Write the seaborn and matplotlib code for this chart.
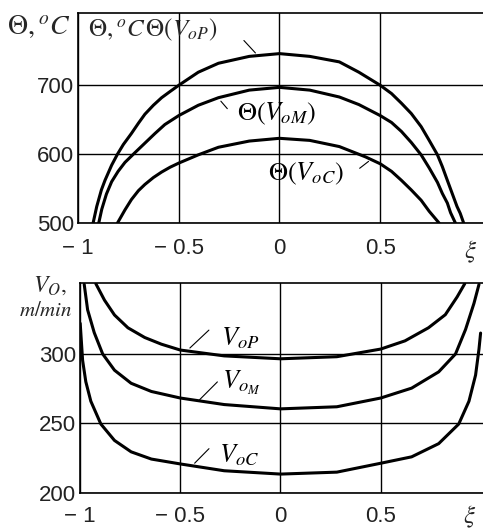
import numpy as np
import pandas as pd
import seaborn as sns
import matplotlib
matplotlib.use('Agg')
import matplotlib.pyplot as plt

# top panel, temperature Theta (deg C) against xi
xi_th_p = [-0.925, -0.907, -0.884, -0.866, -0.851, -0.833, -0.804, -0.775, -0.735, -0.7, -0.668, -0.626,
           -0.585, -0.543, -0.5, -0.403, -0.303, -0.15, 0.0, 0.15, 0.297, 0.394, 0.5, 0.556, 0.605,
           0.654, 0.703, 0.743, 0.784, 0.808, 0.833, 0.857, 0.881, 0.897, 0.914]
th_p = [500, 524, 548, 562, 572, 584, 600, 614, 630, 645, 658, 671,
        682, 691, 700, 719, 732, 742, 746, 742, 734, 719, 700, 688, 674,
        659, 640, 620, 599, 582, 562, 543, 524, 514, 500]

xi_th_m = [-0.897, -0.882, -0.859, -0.833, -0.801, -0.767, -0.718, -0.668, -0.618, -0.569, -0.5,
           -0.403, -0.303, -0.15, 0.0, 0.15, 0.297, 0.394, 0.5, 0.556, 0.605, 0.654, 0.703,
           0.743, 0.784, 0.808, 0.833, 0.849, 0.873]
th_m = [500, 520, 542, 560, 575, 588, 602, 616, 630, 643, 656,
        671, 682, 693, 697, 693, 683, 672, 656, 646, 633, 617, 599,
        580, 559, 543, 529, 515, 500]

xi_th_c = [-0.804, -0.767, -0.735, -0.7, -0.668, -0.626, -0.585, -0.543, -0.5, -0.403, -0.303,
           -0.15, 0.0, 0.15, 0.297, 0.427, 0.5, 0.556, 0.605, 0.654, 0.703, 0.743, 0.792]
th_c = [500, 519, 534, 547, 556, 566, 574, 581, 587, 599, 610,
        619, 623, 620, 611, 596, 586, 575, 562, 548, 533, 517, 500]

# bottom panel, speed V_o (m/min) against xi
xi_v_p = [-0.921, -0.878, -0.828, -0.761, -0.677, -0.594, -0.5, -0.281, 0.0,
          0.281, 0.5, 0.621, 0.738, 0.822, 0.881, 0.919]
v_p = [350.5, 338.7, 328, 318.8, 311.8, 307, 302.8, 298.6, 296.5,
       298, 303.5, 309.4, 318.8, 328.2, 341, 350.5]

xi_v_m = [-0.979, -0.962, -0.929, -0.887, -0.828, -0.745, -0.644, -0.5, -0.281, 0.0,
          0.281, 0.5, 0.654, 0.789, 0.873, 0.923, 0.965, 0.99]
v_m = [350, 331.7, 315.3, 300, 288.3, 278.9, 273, 268.3, 263.6, 260.5,
       262, 268.3, 275.4, 287.1, 300, 317.6, 336.4, 350]

xi_v_c = [-0.999, -0.987, -0.971, -0.946, -0.896, -0.828, -0.745, -0.644, -0.5, -0.281, 0.0,
          0.281, 0.5, 0.654, 0.789, 0.889, 0.94, 0.973, 0.99, 0.998]
v_c = [322, 295.4, 280, 266, 249.6, 237.8, 229.6, 224.4, 220.9, 216, 213.6,
       215, 221.4, 226, 235.5, 249.6, 266, 284.8, 303.5, 315]

x_ticks = [-1, -0.5, 0, 0.5]
x_ticklabels = ['\u2212 1', '\u2212 0.5', '0', '0.5']
th_ticks = [500, 600, 700]
v_ticks = [200, 250, 300]

sns.set_style('white')
plt.rcParams['font.family'] = ['Liberation Sans', 'DejaVu Sans']
plt.rcParams['mathtext.fontset'] = 'stix'

W, H = 483, 532
fig = plt.figure(figsize=(W / 100, H / 100), dpi=100)


def box(l, t, r, b):
    return [l / W, 1 - b / H, (r - l) / W, (b - t) / H]


ax1 = fig.add_axes(box(78, 13, 483, 223))
ax2 = fig.add_axes(box(80, 283, 483, 493))

for xs, ys in [(xi_th_p, th_p), (xi_th_m, th_m), (xi_th_c, th_c)]:
    sns.lineplot(x=xs, y=ys, ax=ax1, color='black', lw=2.2, estimator=None, sort=False)
for xs, ys in [(xi_v_p, v_p), (xi_v_m, v_m), (xi_v_c, v_c)]:
    sns.lineplot(x=xs, y=ys, ax=ax2, color='black', lw=2.2, estimator=None, sort=False)

for ax, lim, yt, pad in [(ax1, (500, 805), th_ticks, 11), (ax2, (200, 351), v_ticks, 9)]:
    ax.set_xlim(-1, 1.01)
    ax.set_ylim(*lim)
    ax.set_xticks(x_ticks)
    ax.set_xticklabels(x_ticklabels)
    ax.set_yticks(yt)
    ax.grid(True, color='black', lw=1.0)
    ax.tick_params(axis='both', length=0, labelsize=16, colors='#222222')
    ax.tick_params(axis='x', pad=pad)
    ax.tick_params(axis='y', pad=3)
    for s in ['left', 'top', 'bottom']:
        ax.spines[s].set_color('black')
        ax.spines[s].set_linewidth(1.2)
    ax.spines['right'].set_visible(False)
    ax.set_xlabel('')
    ax.set_ylabel('')

lbl = dict(fontsize=19, color='black')
leader = dict(arrowstyle='-', color='black', lw=0.8)

# top panel labels
fig.text(39 / W, 1 - 27 / H, r'$\mathit{\Theta},^oC$', ha='center', va='center', fontsize=20)
ax1.text(-0.95, 780, r'$\mathit{\Theta},^oC\,\mathit{\Theta}(V_{oP})$', ha='left', va='center', fontsize=18)
ax1.annotate('', xy=(-0.11, 744), xytext=(-0.186, 768), arrowprops=leader)
ax1.text(-0.21, 659, r'$\mathit{\Theta}(V_{oM})$', ha='left', va='center', **lbl)
ax1.annotate('', xy=(-0.30, 680), xytext=(-0.25, 663), arrowprops=leader)
ax1.text(-0.055, 572, r'$\mathit{\Theta}(V_{oC})$', ha='left', va='center', **lbl)
ax1.annotate('', xy=(0.453, 592), xytext=(0.387, 577), arrowprops=leader)
fig.text(471 / W, 1 - 252 / H, r'$\xi$', ha='center', va='center', fontsize=18)

# bottom panel labels
fig.text(50 / W, 1 - 286 / H, r'$V_O,$', ha='center', va='center', fontsize=17)
fig.text(46 / W, 1 - 310 / H, r'$m/min$', ha='center', va='center', fontsize=15)
ax2.text(-0.296, 311.5, r'$V_{oP}$', ha='left', va='center', **lbl)
ax2.annotate('', xy=(-0.462, 302.9), xytext=(-0.347, 318.5), arrowprops=leader)
ax2.text(-0.29, 279, r'$V_{o_M}$', ha='left', va='center', **lbl)
ax2.annotate('', xy=(-0.413, 265.7), xytext=(-0.305, 281.3), arrowprops=leader)
ax2.text(-0.305, 227, r'$V_{oC}$', ha='left', va='center', **lbl)
ax2.annotate('', xy=(-0.438, 220), xytext=(-0.347, 233.3), arrowprops=leader)
fig.text(470 / W, 1 - 517 / H, r'$\xi$', ha='center', va='center', fontsize=18)

fig.savefig('out.png', dpi=100)
